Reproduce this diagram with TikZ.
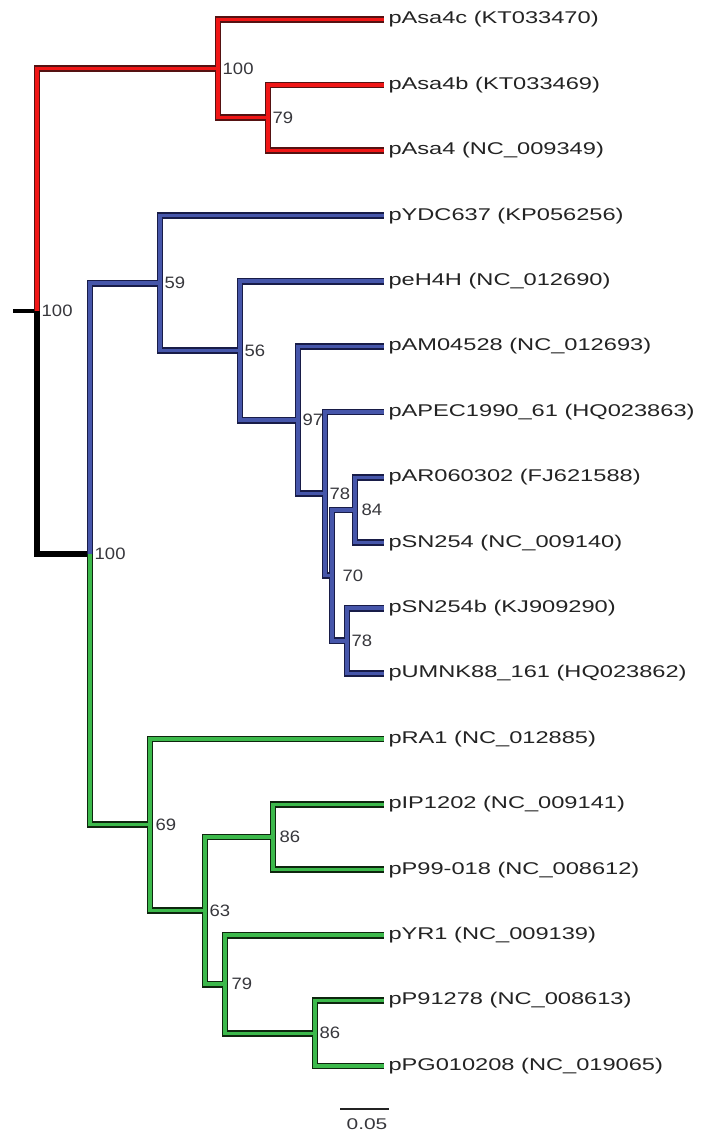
\documentclass[tikz,border=0pt]{standalone}
\usepackage{fontspec}
\newfontfamily\tipfont[FakeStretch=1.39]{Liberation Sans}
\newfontfamily\bsfont[FakeStretch=1.12]{Liberation Sans}
\newfontfamily\scfont[FakeStretch=1.35]{Liberation Sans}
\definecolor{txt}{RGB}{35,35,35}
\definecolor{bstxt}{RGB}{55,55,60}
\definecolor{redin}{RGB}{240,22,22}
\definecolor{redout}{RGB}{85,18,18}
\definecolor{bluein}{RGB}{70,86,170}
\definecolor{blueout}{RGB}{24,28,72}
\definecolor{greenin}{RGB}{60,185,75}
\definecolor{greenout}{RGB}{14,38,14}
\newcommand\treeedges[1]{%
  % red clade
  \draw[red#1] (R) |- (A);
  \draw[red#1] (A) |- (t1.west);
  \draw[red#1] (A) |- (B);
  \draw[red#1] (B) |- (t2.west);
  \draw[red#1] (B) |- (t3.west);
  % blue clade
  \draw[blue#1] (C) |- (D);
  \draw[blue#1] (D) |- (t4.west);
  \draw[blue#1] (D) |- (E);
  \draw[blue#1] (E) |- (t5.west);
  \draw[blue#1] (E) |- (F);
  \draw[blue#1] (F) |- (t6.west);
  \draw[blue#1] (F) |- (G);
  \draw[blue#1] (G) |- (t7.west);
  \draw[blue#1] (G) |- (H);
  \draw[blue#1] (H) |- (I);
  \draw[blue#1] (H) |- (J);
  \draw[blue#1] (I) |- (t8.west);
  \draw[blue#1] (I) |- (t9.west);
  \draw[blue#1] (J) |- (t10.west);
  \draw[blue#1] (J) |- (t11.west);
  % green clade
  \draw[green#1] (C) |- (K);
  \draw[green#1] (K) |- (t12.west);
  \draw[green#1] (K) |- (L);
  \draw[green#1] (L) |- (M);
  \draw[green#1] (L) |- (N);
  \draw[green#1] (M) |- (t13.west);
  \draw[green#1] (M) |- (t14.west);
  \draw[green#1] (N) |- (t15.west);
  \draw[green#1] (N) |- (O);
  \draw[green#1] (O) |- (t16.west);
  \draw[green#1] (O) |- (t17.west);
}
\begin{document}
\begin{tikzpicture}[x=1pt,y=-1pt,
  tiplab/.style={anchor=west,inner xsep=4.5pt,inner ysep=1pt,outer sep=0pt,text=txt,
    font=\tipfont\fontsize{17}{20}\selectfont},
  bslab/.style={anchor=west,inner sep=0.5pt,xshift=4pt,text=bstxt,
    font=\bsfont\fontsize{16.5}{19}\selectfont},
  edgebase/.style={line join=miter,line cap=butt},
  redo/.style={edgebase,draw=redout,line width=6.8pt},
  redi/.style={edgebase,draw=redin,line width=3.4pt},
  blueo/.style={edgebase,draw=blueout,line width=6.8pt},
  bluei/.style={edgebase,draw=bluein,line width=3.4pt},
  greeno/.style={edgebase,draw=greenout,line width=6.8pt},
  greeni/.style={edgebase,draw=greenin,line width=3.4pt},
  rootedge/.style={edgebase,draw=black,line width=6.8pt},
  stub/.style={draw=black,line width=4pt},
  scalebar/.style={draw=txt,line width=1.3pt},
  scalelab/.style={text=bstxt,inner sep=0pt,font=\scfont\fontsize{15.5}{18}\selectfont}]
\useasboundingbox (0,0) rectangle (701,1132);

% tip labels
\node[tiplab] (t1)  at (384,19.5)   {pAsa4c (KT033470)};
\node[tiplab] (t2)  at (384,84.9)   {pAsa4b (KT033469)};
\node[tiplab] (t3)  at (384,150.3)  {pAsa4 (NC\_009349)};
\node[tiplab] (t4)  at (384,215.7)  {pYDC637 (KP056256)};
\node[tiplab] (t5)  at (384,281.1)  {peH4H (NC\_012690)};
\node[tiplab] (t6)  at (384,346.5)  {pAM04528 (NC\_012693)};
\node[tiplab] (t7)  at (384,411.9)  {pAPEC1990\_61 (HQ023863)};
\node[tiplab] (t8)  at (384,477.3)  {pAR060302 (FJ621588)};
\node[tiplab] (t9)  at (384,542.7)  {pSN254 (NC\_009140)};
\node[tiplab] (t10) at (384,608.1)  {pSN254b (KJ909290)};
\node[tiplab] (t11) at (384,673.5)  {pUMNK88\_161 (HQ023862)};
\node[tiplab] (t12) at (384,738.9)  {pRA1 (NC\_012885)};
\node[tiplab] (t13) at (384,804.3)  {pIP1202 (NC\_009141)};
\node[tiplab] (t14) at (384,869.7)  {pP99-018 (NC\_008612)};
\node[tiplab] (t15) at (384,935.1)  {pYR1 (NC\_009139)};
\node[tiplab] (t16) at (384,1000.5) {pP91278 (NC\_008613)};
\node[tiplab] (t17) at (384,1065.9) {pPG010208 (NC\_019065)};

% internal nodes
\coordinate (S) at (13,311.25);
\coordinate (R) at (37,311.25);
\coordinate (A) at (218,68.55);
\coordinate (B) at (268,117.6);
\coordinate (C) at (90,553.95);
\coordinate (D) at (160,283.15);
\coordinate (E) at (240,350.6);
\coordinate (F) at (298,420.1);
\coordinate (G) at (325,493.65);
\coordinate (H) at (332,575.4);
\coordinate (I) at (355,510);
\coordinate (J) at (347,640.8);
\coordinate (K) at (150,824.75);
\coordinate (L) at (205,910.6);
\coordinate (M) at (273,837);
\coordinate (N) at (225,984.15);
\coordinate (O) at (315,1033.2);

% branches: outlines first, then fills
\draw[stub] (S) -- (R);
\draw[rootedge] (R) |- (C);
\treeedges{o}
\treeedges{i}

% bootstrap values
\node[bslab] (bR) at (R) {100};
\node[bslab] (bA) at (A) {100};
\node[bslab] (bB) at (B) {79};
\node[bslab] (bC) at (C) {100};
\node[bslab] (bD) at (D) {59};
\node[bslab] (bE) at (E) {56};
\node[bslab] (bF) at (F) {97};
\node[bslab] (bG) at (G) {78};
\node[bslab,xshift=6pt] (bH) at (H) {70};
\node[bslab,xshift=2pt] (bI) at (I) {84};
\node[bslab] (bJ) at (J) {78};
\node[bslab,xshift=1pt] (bK) at (K) {69};
\node[bslab] (bL) at (L) {63};
\node[bslab,xshift=2pt] (bM) at (M) {86};
\node[bslab,xshift=2pt] (bN) at (N) {79};
\node[bslab] (bO) at (O) {86};

% scale bar
\coordinate (s1) at (340,1109);
\coordinate (s2) at (389,1109);
\draw[scalebar] (s1) -- (s2);
\node[scalelab] (sc) at (367,1124) {0.05};
\end{tikzpicture}
\end{document}
